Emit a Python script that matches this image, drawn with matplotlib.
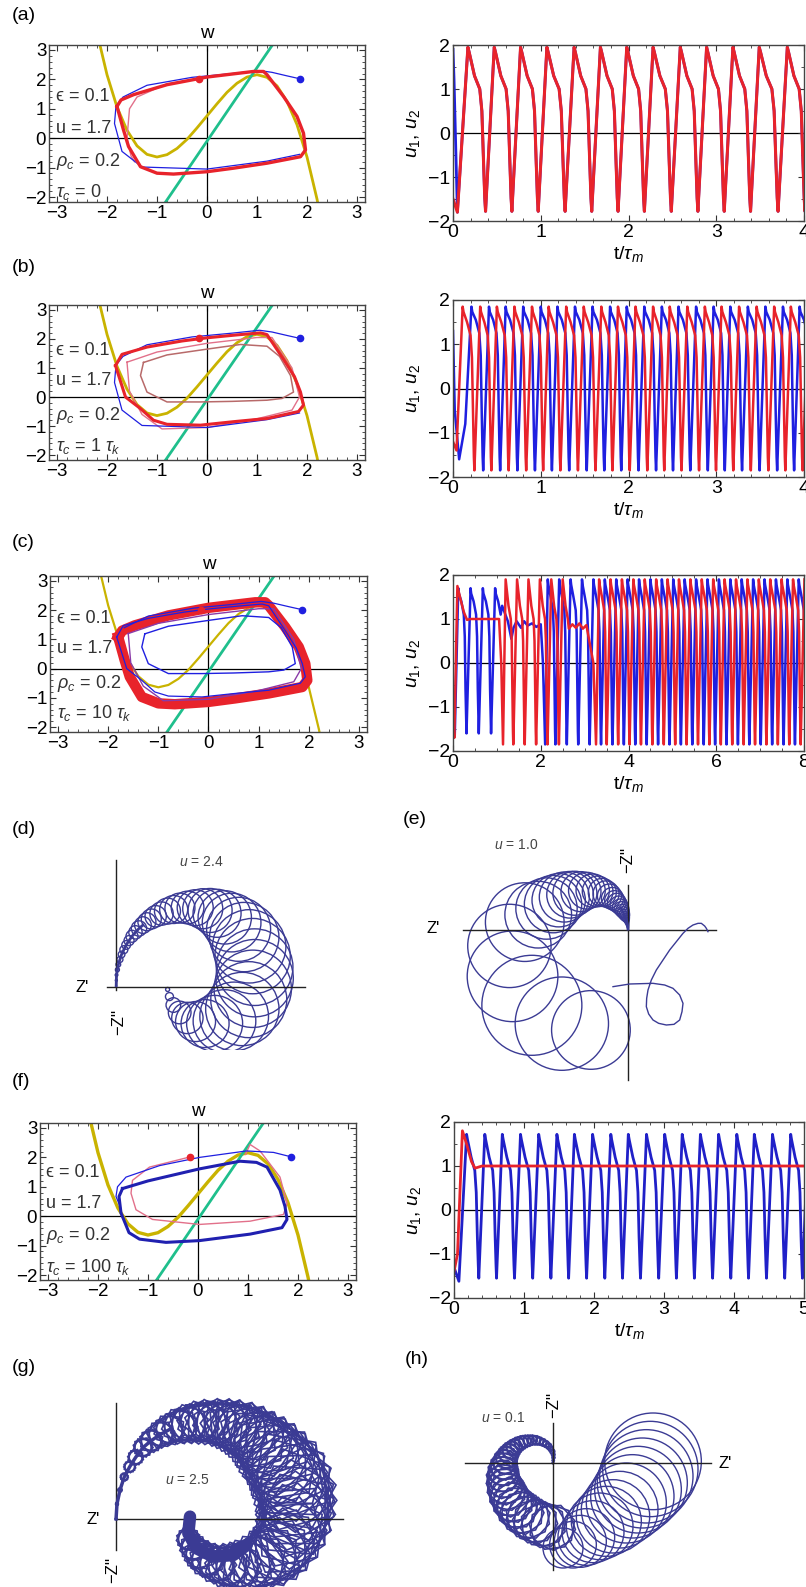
import numpy as np
import matplotlib
matplotlib.use("Agg")
import matplotlib.pyplot as plt
from matplotlib.patches import Circle, RegularPolygon
from matplotlib.ticker import MultipleLocator

plt.rcParams["font.family"] = ["Liberation Sans", "DejaVu Sans"]
plt.rcParams["mathtext.fontset"] = "custom"
plt.rcParams["mathtext.rm"] = "Liberation Sans"
plt.rcParams["mathtext.it"] = "Liberation Sans:italic"

W, H = 806, 1587
RED, BLUE, YEL, GRN = "#e8232b", "#1f1fe0", "#c9b300", "#1fbf8c"
PINK, BROWN, PURP, LOOP = "#e2708a", "#b86a6a", "#8a3aa8", "#3b3b94"

# ---------------- phase-plane data (u horizontal, w vertical) ----------------
null_u = [-2.3, -2.2, -2.0, -1.8, -1.6, -1.4, -1.2, -1.0, -0.8, -0.6, -0.4, -0.2, 0.0,
          0.2, 0.4, 0.6, 0.8, 1.0, 1.2, 1.4, 1.6, 1.8, 2.0, 2.2, 2.3]
null_w = [4.45, 3.59, 2.16, 1.06, 0.27, -0.26, -0.55, -0.64, -0.56, -0.35, -0.04, 0.35, 0.76,
          1.17, 1.56, 1.87, 2.08, 2.16, 2.07, 1.78, 1.25, 0.46, -0.64, -2.07, -2.93]
lin_u = [-1.0, 1.4]
lin_w = [-2.6, 3.4]
dot_red = (-0.15, 2.02)
dot_blue = (1.86, 2.02)

a_cyc_u = [-1.8, -1.72, -1.47, -0.8, 0.0, 0.93, 1.13, 1.2, 1.53, 1.8, 1.93, 1.97, 1.87,
           1.2, 0.53, 0.0, -0.67, -1.0, -1.33, -1.57, -1.67, -1.8]
a_cyc_w = [1.08, 1.3, 1.48, 1.82, 2.08, 2.27, 2.27, 2.16, 1.42, 0.74, 0.17, -0.4, -0.63,
           -0.85, -1.02, -1.14, -1.22, -1.19, -0.97, -0.28, 0.28, 1.08]
a_blu_u = [1.86, 1.6, 1.3, 1.05, 0.5, -0.3, -1.2, -1.68, -1.82, -1.85, -1.7, -1.3, 0.0, 1.2, 1.85]
a_blu_w = [2.02, 2.12, 2.24, 2.3, 2.2, 2.07, 1.8, 1.4, 1.1, 0.5, -0.45, -0.98, -1.05, -0.78, -0.55]
a_pnk_u = [-0.15, -0.8, -1.4, -1.55, -1.6, -1.52, -1.45]
a_pnk_w = [2.02, 1.85, 1.4, 1.0, 0.0, -0.6, -0.8]

b_cyc_u = [-1.83, -1.7, -1.2, -0.5, 0.0, 0.6, 1.07, 1.2, 1.53, 1.75, 1.87, 1.93, 1.83,
           1.2, 0.53, -0.13, -0.8, -1.07, -1.33, -1.63, -1.83]
b_cyc_w = [1.08, 1.47, 1.72, 1.93, 2.04, 2.14, 2.21, 2.15, 1.3, 0.7, 0.17, -0.28, -0.5,
           -0.74, -0.85, -0.97, -0.94, -0.8, -0.4, 0.0, 1.08]
b_inn_u = [-1.27, -0.8, 0.0, 0.67, 1.2, 1.45, 1.67, 1.73, 1.5, 1.2, 0.5, -0.13, -0.8,
           -1.2, -1.33, -1.27]
b_inn_w = [1.19, 1.45, 1.65, 1.81, 1.75, 1.4, 0.74, 0.17, -0.05, -0.11, -0.15, -0.17,
           -0.17, 0.17, 0.74, 1.19]
b_mid_u = [-1.6, -1.0, 0.0, 1.0, 1.3, 1.7, 1.85, 1.7, 1.0, 0.0, -0.9, -1.3, -1.55, -1.6]
b_mid_w = [1.2, 1.55, 1.85, 2.05, 2.05, 1.0, 0.0, -0.45, -0.75, -1.05, -1.1, -0.6, 0.2, 1.2]

f_cyc_u = [-1.51, -1.0, 0.03, 0.84, 1.17, 1.38, 1.64, 1.74, 1.78, 1.68, 1.04, 0.03, -0.64,
           -1.17, -1.38, -1.54, -1.58, -1.51]
f_cyc_w = [0.94, 1.2, 1.61, 1.87, 1.83, 1.67, 0.89, 0.33, -0.11, -0.39, -0.61, -0.83, -0.89,
           -0.78, -0.56, 0.11, 0.67, 0.94]
f_blu_u = [1.86, 1.51, 0.97, 0.03, -0.77, -1.44, -1.61, -1.64, -1.55]
f_blu_w = [2.02, 2.17, 2.22, 2.0, 1.72, 1.33, 1.0, 0.67, 0.3]
f_pnk_u = [-0.15, -0.97, -1.31, -1.34, -1.24, -0.91, 0.03, 1.04, 1.71, 1.78, 1.64, 1.24, 1.04, 0.95]
f_pnk_w = [2.02, 1.67, 1.22, 0.78, 0.22, -0.11, -0.28, -0.17, 0.06, 0.44, 1.33, 2.22, 2.44, 2.1]

# ---------------- time-series data ----------------
a_peaks = [0.17, 0.47, 0.77, 1.07, 1.38, 1.68, 1.98, 2.28, 2.59, 2.89, 3.19, 3.49, 3.81, 4.11]
a_red_init = ([0.0, 0.05], [-1.5, -1.8])
a_blue_init = ([0.0, 0.012, 0.05], [1.9, 1.2, -1.8])

b_red_peaks = [0.11, 0.31, 0.50, 0.70, 0.90, 1.09, 1.29, 1.49, 1.69, 1.88, 2.08, 2.28, 2.47,
               2.67, 2.87, 3.06, 3.26, 3.46, 3.66, 3.85, 4.05]
b_blue_peaks = [0.21, 0.41, 0.60, 0.80, 1.00, 1.19, 1.39, 1.59, 1.79, 1.98, 2.18, 2.38, 2.57,
                2.77, 2.97, 3.16, 3.36, 3.56, 3.76, 3.95, 4.15]
b_red_init = ([0.0, 0.04], [-1.2, -1.4])
b_blue_init = ([0.0, 0.02, 0.07, 0.14], [1.3, -0.5, -1.6, -0.8])

c_red_init = ([0.0, 0.03, 0.1, 0.17, 0.25, 0.32, 0.4, 1.05, 1.1, 1.14],
              [-1.3, -1.7, 1.75, 1.45, 1.15, 0.98, 1.0, 1.0, 0.0, -1.85])
c_red_peaks1 = [1.2, 1.46, 1.72, 1.98, 2.24, 2.5]
c_red_hold = ([2.64, 2.72, 2.8, 2.88, 2.96, 3.04, 3.2, 3.26],
              [0.78, 0.88, 0.8, 0.9, 0.78, 0.86, 0.0, -1.85])
c_red_peaks2 = [3.33, 3.59, 3.85, 4.11, 4.37, 4.63, 4.89, 5.15, 5.41, 5.67, 5.93, 6.19,
                6.45, 6.71, 6.97, 7.23, 7.49, 7.75, 8.01]
c_blue_init = ([0.0, 0.04], [-1.0, -1.65])
c_blue_peaks1 = [0.12, 0.4, 0.68, 0.96]
c_blue_hold = ([1.12, 1.25, 1.33, 1.38, 1.45, 1.55, 1.62, 1.7, 1.8, 1.9, 2.0, 2.05, 2.1],
               [1.3, 0.95, 0.55, 0.8, 0.95, 0.8, 0.95, 0.85, 0.9, 0.82, 0.88, 0.0, -1.85])
c_blue_peaks2 = [2.16, 2.42, 2.68, 2.94, 3.2, 3.46, 3.72, 3.98, 4.24, 4.5, 4.76, 5.02, 5.28,
                 5.54, 5.8, 6.06, 6.32, 6.58, 6.84, 7.1, 7.36, 7.62, 7.88, 8.14]

f_blue_peaks = [0.18, 0.44, 0.69, 0.95, 1.21, 1.47, 1.72, 1.98, 2.24, 2.49, 2.75, 3.01,
                3.26, 3.52, 3.78, 4.04, 4.29, 4.55, 4.81, 5.06]
f_blue_init = ([0.0, 0.07], [-1.3, -1.62])
f_red = ([0.0, 0.05, 0.12, 0.18, 0.25, 0.3, 0.4, 5.0], [-1.4, -1.0, 1.8, 1.5, 1.1, 0.95, 1.0, 1.0])

# ---------------- loop (Z', Z'') data ----------------
d_centre = (230, 20)
d_ang = [184, 180, 176, 172, 168, 164, 160, 156, 152, 148, 144, 140, 136, 132, 128, 124, 120,
         115, 110, 105, 100, 94, 88, 82, 76, 70, 63, 56, 48, 40, 31, 22, 12, 2, -8, -19, -30,
         -41, -52, -63, -74, -86, -98, -112, -128, -145, -160]
d_dist = [230, 229, 229, 228, 228, 227, 227, 226, 226, 225, 225, 224, 224, 223, 223, 222, 222,
          221, 221, 220, 220, 219, 218, 217, 216, 214, 212, 209, 206, 202, 198, 194, 190, 186,
          182, 178, 172, 165, 155, 145, 135, 124, 114, 104, 94, 85, 80]
d_rad = [1, 3, 4, 6, 7, 9, 10, 12, 13, 15, 18, 20, 23, 25, 27, 30, 32, 35, 39, 42, 45, 49, 54,
         60, 66, 72, 80, 88, 96, 104, 110, 113, 115, 116, 116, 114, 110, 103, 94, 84, 72, 60,
         47, 34, 22, 12, 6]

e_centre = (-85, 0)
e_ang = [2, 5, 8, 11, 14, 17, 20, 23, 26, 29, 32, 36, 40, 44, 48, 53, 58, 63, 68, 74, 80, 86,
         93, 100, 108, 116, 124, 130, 137, 144, 151, 158, 166, 174, 190, 208, 228, 248, 265]
e_dist = [85, 85, 85, 85, 85, 85, 86, 86, 86, 86, 87, 88, 89, 91, 93, 95, 97, 99, 102, 106,
          110, 113, 116, 120, 124, 128, 133, 138, 145, 152, 160, 172, 190, 226, 275, 296, 304,
          303, 301]
e_rad = [1, 2, 3, 4, 5, 6, 8, 10, 12, 14, 16, 18, 20, 22, 24, 26, 28, 30, 33, 36, 39, 42, 46,
         50, 55, 60, 66, 70, 75, 80, 86, 92, 100, 118, 125, 136, 150, 140, 118]
e_tail_x = [-45, 5, 75, 110, 135, 155, 165, 162, 155, 138, 115, 92, 75, 62, 55, 56, 60, 70, 85,
            105, 125, 145, 165, 180, 195, 210, 220, 230, 235, 240]
e_tail_y = [-170, -162, -160, -165, -175, -195, -220, -245, -270, -283, -285, -280, -270, -252,
            -230, -205, -180, -150, -120, -90, -60, -35, -10, 5, 15, 20, 20, 12, 5, -5]

g_centre = (302, 87)
g_ang = [196, 188, 180, 172, 165, 158, 150, 143, 135, 128, 120, 113, 105, 98, 90, 82, 75, 68,
         60, 52, 45, 38, 30, 22, 15, 8, 0, -8, -15, -22, -30, -38, -45, -52, -60, -68, -75,
         -82, -90, -98, -105, -112, -120]
g_dist = [314, 302, 290, 280, 270, 262, 255, 246, 237, 230, 222, 216, 210, 206, 202, 199, 197,
          196, 195, 194, 194, 197, 200, 207, 215, 224, 232, 239, 245, 250, 255, 258, 259, 255,
          250, 244, 237, 230, 222, 211, 200, 186, 170]
g_rad = [2, 4, 6, 12, 18, 24, 30, 36, 42, 48, 55, 60, 65, 68, 72, 77, 82, 87, 92, 97, 102, 108,
         115, 120, 125, 126, 127, 124, 120, 115, 110, 105, 101, 96, 90, 83, 75, 68, 60, 54, 48,
         42, 36]
g_hook_x = [222, 217, 242, 292, 352, 392]
g_hook_y = [7, -43, -88, -113, -108, -78]

h_centre = (-48, -10)
h_ang = [12, 20, 28, 36, 44, 52, 60, 68, 76, 84, 92, 100, 108, 116, 124, 132, 140, 148, 156,
         164, 172, 180, 188, 196, 204, 212, 220, 228, 236, 244, 252, 260, 268, 276, 284]
h_dist = [49, 52, 56, 60, 64, 67, 70, 72, 74, 76, 78, 80, 81, 83, 85, 87, 89, 91, 93, 95, 97,
          100, 103, 106, 109, 113, 118, 124, 130, 138, 146, 155, 165, 176, 188]
h_rad = [2, 3, 4, 5, 7, 8, 9, 10, 11, 12, 14, 15, 17, 19, 21, 23, 25, 28, 31, 34, 38, 42, 46,
         50, 53, 56, 58, 60, 62, 64, 66, 67, 68, 69, 70]
h_big_x = [30, 60, 82, 100, 120, 140, 160, 180, 200, 220, 238, 255, 268, 280, 292, 300]
h_big_y = [-255, -245, -235, -222, -206, -190, -175, -160, -140, -120, -100, -80, -60, -40, -18, 5]
h_big_r = [60, 70, 78, 85, 93, 100, 105, 110, 115, 120, 125, 130, 135, 140, 143, 145]

# ---------------- helpers ----------------
fig = plt.figure(figsize=(W / 100, H / 100), dpi=100)


def px_rect(x0, y0, x1, y1):
    return [x0 / W, 1 - y1 / H, (x1 - x0) / W, (y1 - y0) / H]


def frame(ax):
    for s in ax.spines.values():
        s.set_color("#444444")
        s.set_linewidth(1.0)
    ax.tick_params(which="both", direction="in", top=True, right=True, pad=2, colors="#333333")
    ax.tick_params(which="major", length=4)
    ax.tick_params(which="minor", length=2)


def phase_panel(rect, text_y, tau_txt):
    ax = fig.add_axes(px_rect(*rect))
    ax.set_xlim(-3.16, 3.16)
    ax.set_ylim(-2.17, 3.17)
    ax.xaxis.set_major_locator(MultipleLocator(1))
    ax.xaxis.set_minor_locator(MultipleLocator(0.2))
    ax.yaxis.set_major_locator(MultipleLocator(1))
    ax.yaxis.set_minor_locator(MultipleLocator(0.2))
    frame(ax)
    ax.tick_params(labelsize=13.5, labelcolor="black")
    ax.axhline(0, color="k", lw=0.9)
    ax.axvline(0, color="k", lw=0.9)
    ax.set_title("w", fontsize=13.5, pad=5)
    labels = ["ϵ = 0.1", "u = 1.7", r"$\rho_c$ = 0.2", tau_txt]
    for y, s in zip(text_y, labels):
        ax.text(-3.03, y, s, fontsize=13, ha="left", va="center", color="#333333")
    return ax


def nullclines(ax, lw=2.0):
    ax.plot(null_u, null_w, color=YEL, lw=lw, zorder=2)
    ax.plot(lin_u, lin_w, color=GRN, lw=2.0, zorder=2)


def dots(ax):
    ax.plot(*dot_red, "o", color=RED, ms=4.5, zorder=6)
    ax.plot(*dot_blue, "o", color=BLUE, ms=4.5, zorder=6)


def ts_panel(rect, xmax, major, minor):
    ax = fig.add_axes(px_rect(*rect))
    ax.set_xlim(0, xmax)
    ax.set_ylim(-2, 2)
    ax.xaxis.set_major_locator(MultipleLocator(major))
    ax.xaxis.set_minor_locator(MultipleLocator(minor))
    ax.yaxis.set_major_locator(MultipleLocator(1))
    ax.yaxis.set_minor_locator(MultipleLocator(0.5))
    frame(ax)
    ax.tick_params(labelsize=14, labelcolor="black")
    ax.axhline(0, color="k", lw=0.9, zorder=1)
    ax.set_ylabel(r"$u_1$, $u_2$", fontsize=14, labelpad=4)
    ax.set_xlabel(r"t/$\tau_m$", fontsize=14, labelpad=2)
    return ax


SHAPE_F = [0.0, 0.05, 0.25, 0.45, 0.53, 0.59, 0.64, 0.67]


def levels(hi, lo, knee):
    return [hi, hi - 0.12, knee + 0.3, knee, knee - 0.5, -0.6, lo + 0.3, lo]


def train(peaks, hi, lo, knee, tail=False):
    lv = levels(hi, lo, knee)
    t, v = [], []
    for p0, p1 in zip(peaks[:-1], peaks[1:]):
        t += [p0 + f * (p1 - p0) for f in SHAPE_F]
        v += lv
    t.append(peaks[-1])
    v.append(hi)
    if tail:
        d = peaks[-1] - peaks[-2]
        t += [peaks[-1] + f * d for f in SHAPE_F[1:4]]
        v += lv[1:4]
    return t, v


def series(*parts):
    t, v = [], []
    for pt, pv in parts:
        t += list(pt)
        v += list(pv)
    return t, v


def loop_panel(rect, origin):
    x0, y0, x1, y1 = rect
    ox, oy = origin
    ax = fig.add_axes(px_rect(*rect))
    ax.set_xlim((x0 - ox) * 3, (x1 - ox) * 3)
    ax.set_ylim((oy - y1) * 3, (oy - y0) * 3)
    ax.axis("off")
    return ax


def polar_loops(centre, ang, dist, rad):
    a = np.radians(ang)
    return centre[0] + np.array(dist) * np.cos(a), centre[1] + np.array(dist) * np.sin(a), rad


def circles(ax, xs, ys, rs, lw=1.0):
    for x, y, r in zip(xs, ys, rs):
        ax.add_patch(Circle((x, y), r, fill=False, ec=LOOP, lw=lw))


def axes_cross(ax, xr, yr):
    ax.plot(xr, [0, 0], color="#222222", lw=1.0)
    ax.plot([0, 0], yr, color="#222222", lw=1.0)


# ---------------- (a) ----------------
ax = phase_panel((49, 45, 365, 202), [1.42, 0.34, -0.8, -1.82], r"$\tau_c$ = 0")
nullclines(ax)
ax.plot(a_pnk_u, a_pnk_w, color=PINK, lw=1.0, zorder=3)
ax.plot(a_blu_u, a_blu_w, color=BLUE, lw=0.9, zorder=3)
ax.plot(a_cyc_u, a_cyc_w, color=RED, lw=2.4, zorder=4)
dots(ax)

ax = ts_panel((453, 45, 804, 221), 4, 1, 0.2)
ax.plot(*series(a_blue_init, train(a_peaks, 1.95, -1.78, 1.0)), color=BLUE, lw=2.0)
ax.plot(*series(a_red_init, train(a_peaks, 1.95, -1.78, 1.0)), color=RED, lw=2.2)

# ---------------- (b) ----------------
ax = phase_panel((49, 305, 365, 460), [1.59, 0.57, -0.63, -1.7], r"$\tau_c$ = 1 $\tau_k$")
nullclines(ax)
ax.plot(b_inn_u, b_inn_w, color=BROWN, lw=1.1, zorder=3)
ax.plot(b_mid_u, b_mid_w, color=PINK, lw=1.0, zorder=3)
ax.plot(a_blu_u, a_blu_w, color=BLUE, lw=0.9, zorder=3)
ax.plot(b_cyc_u, b_cyc_w, color=RED, lw=2.2, zorder=4)
dots(ax)

ax = ts_panel((453, 300, 804, 477), 4, 1, 0.2)
ax.plot(*series(b_blue_init, train(b_blue_peaks, 1.85, -1.85, 1.25)), color=BLUE, lw=1.8)
ax.plot(*series(b_red_init, train(b_red_peaks, 1.85, -1.85, 1.2)), color=RED, lw=1.8)

# ---------------- (c) ----------------
ax = phase_panel((50, 576, 367, 732), [1.7, 0.68, -0.51, -1.53], r"$\tau_c$ = 10 $\tau_k$")
nullclines(ax, lw=1.6)
ax.plot(a_cyc_u, a_cyc_w, color=RED, lw=7.5, zorder=3, solid_joinstyle="round")
ax.plot(b_mid_u, b_mid_w, color=PURP, lw=1.0, zorder=4)
ax.plot(b_inn_u, b_inn_w, color=BLUE, lw=1.0, zorder=4)
ax.plot(b_cyc_u, b_cyc_w, color=BLUE, lw=0.9, zorder=4)
ax.plot(a_blu_u[:8], a_blu_w[:8], color=BLUE, lw=0.9, zorder=4)
dots(ax)

ax = ts_panel((453, 575, 804, 751), 8, 2, 0.5)
ax.plot(*series(c_blue_init, train(c_blue_peaks1, 1.7, -1.6, 1.1, tail=True), c_blue_hold,
                train(c_blue_peaks2, 1.9, -1.85, 1.2)), color=BLUE, lw=1.8)
ax.plot(*series(c_red_init, train(c_red_peaks1, 1.9, -1.85, 1.0, tail=True), c_red_hold,
                train(c_red_peaks2, 1.9, -1.85, 1.2)), color=RED, lw=1.8)

# ---------------- (d) ----------------
ax = loop_panel((20, 845, 330, 1050), (116, 987))
axes_cross(ax, [-28, 567], [-10, 380])
dx, dy, dr = polar_loops(d_centre, d_ang, d_dist, d_rad)
circles(ax, dx, dy, dr)
ax.plot(dx[:14], dy[:14], color=LOOP, lw=2.0)
ax.text(-103, 0, "Z'", fontsize=12, ha="center", va="center")
ax.text(7, -105, "−Z''", fontsize=12, ha="center", va="center", rotation=90)
ax.text(257, 375, r"$u$ = 2.4", fontsize=10, ha="center", va="center", color="#444444")

# ---------------- (e) ----------------
ax = loop_panel((410, 840, 725, 1085), (628, 930))
axes_cross(ax, [-495, 265], [-450, 135])
ex, ey, er = polar_loops(e_centre, e_ang, e_dist, e_rad)
circles(ax, ex, ey, er)
ax.plot(ex[:14], ey[:14], color=LOOP, lw=2.0)
ax.plot(e_tail_x, e_tail_y, color=LOOP, lw=1.0)
ax.text(-585, 5, "Z'", fontsize=12, ha="center", va="center")
ax.text(-2, 210, "−Z''", fontsize=12, ha="center", va="center", rotation=90)
ax.text(-335, 255, r"$u$ = 1.0", fontsize=10, ha="center", va="center", color="#444444")

# ---------------- (f) ----------------
ax = phase_panel((40, 1123, 356, 1280), [1.5, 0.44, -0.67, -1.72], r"$\tau_c$ = 100 $\tau_k$")
nullclines(ax, lw=2.4)
ax.plot(f_pnk_u, f_pnk_w, color=PINK, lw=1.0, zorder=3)
ax.plot(f_blu_u, f_blu_w, color=BLUE, lw=0.9, zorder=3)
ax.plot(f_cyc_u, f_cyc_w, color="#2020b0", lw=2.2, zorder=4)
dots(ax)

ax = ts_panel((454, 1122, 804, 1298), 5, 1, 0.2)
ax.plot(*series(f_blue_init, train(f_blue_peaks, 1.72, -1.55, 0.9)), color="#2020c8", lw=2.0)
ax.plot(*f_red, color=RED, lw=2.0)

# ---------------- (g) ----------------
ax = loop_panel((20, 1395, 350, 1587), (116, 1519))
axes_cross(ax, [0, 682], [-93, 347])
gx, gy, gr = polar_loops(g_centre, g_ang, g_dist, g_rad)
ax.plot(gx[:10], gy[:10], color=LOOP, lw=2.5)
for k, (x, y, r) in enumerate(zip(gx, gy, gr)):
    for rot in (0.0, 0.4, 0.8):
        ax.add_patch(RegularPolygon((x, y), 5, radius=r, orientation=rot + 0.3 * k,
                                    fill=False, ec=LOOP, lw=1.2))
ax.plot(g_hook_x, g_hook_y, color=LOOP, lw=9, solid_capstyle="round")
ax.text(-68, -3, "Z'", fontsize=12, ha="center", va="center")
ax.text(-10, -153, "−Z''", fontsize=12, ha="center", va="center", rotation=90)
ax.text(212, 117, r"$u$ = 2.5", fontsize=10, ha="center", va="center", color="#444444")

# ---------------- (h) ----------------
ax = loop_panel((430, 1390, 740, 1587), (553, 1463))
axes_cross(ax, [-265, 475], [-320, 120])
hx, hy, hr = polar_loops(h_centre, h_ang, h_dist, h_rad)
for k, (x, y, r) in enumerate(zip(hx, hy, hr)):
    for rot in (0.0, 0.5):
        ax.add_patch(RegularPolygon((x, y), 7, radius=r, orientation=rot + 0.2 * k,
                                    fill=False, ec=LOOP, lw=1.2))
circles(ax, h_big_x, h_big_y, h_big_r)
ax.text(515, 0, "Z'", fontsize=12, ha="center", va="center")
ax.text(2, 175, "−Z''", fontsize=12, ha="center", va="center", rotation=90)
ax.text(-150, 135, r"$u$ = 0.1", fontsize=10, ha="center", va="center", color="#444444")

# ---------------- panel letters ----------------
for s, x, y in [("(a)", 12, 15), ("(b)", 12, 268), ("(c)", 12, 542), ("(d)", 12, 830),
                ("(e)", 403, 820), ("(f)", 12, 1081), ("(g)", 12, 1368), ("(h)", 405, 1360)]:
    fig.text(x / W, 1 - y / H, s, fontsize=14, ha="left", va="center")

fig.savefig("out.png", dpi=100)
